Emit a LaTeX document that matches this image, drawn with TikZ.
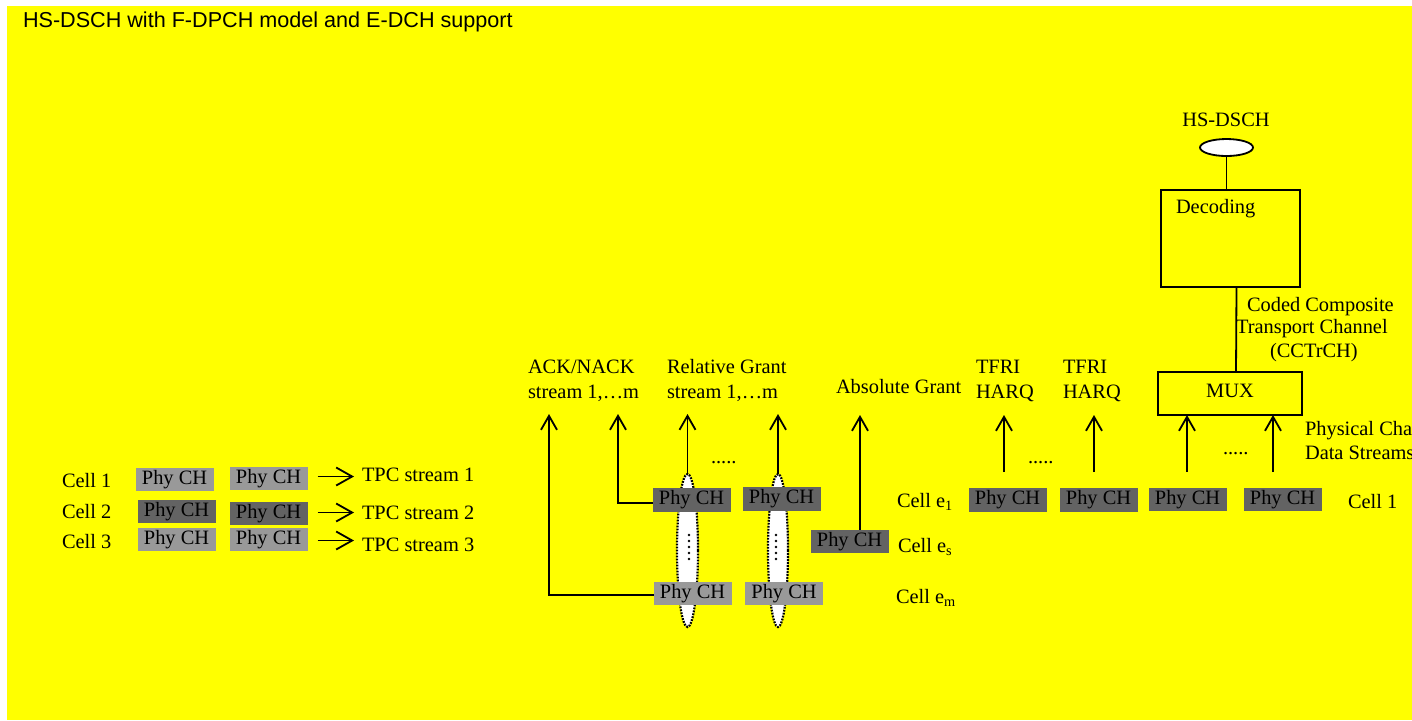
\documentclass[tikz,border=0pt]{standalone}
\usepackage{fontspec}
\setmainfont{Liberation Serif}
\newfontfamily\titlefont{Liberation Sans}
\usetikzlibrary{arrows.meta,shapes.geometric}
\definecolor{bgyellow}{RGB}{255,255,0}
\definecolor{lightph}{RGB}{153,153,153}
\definecolor{darkph}{RGB}{99,99,99}
\begin{document}
\begin{tikzpicture}[x=0.5pt,y=-0.5pt,
  every node/.style={inner sep=0pt, outer sep=0pt, font=\fontsize{10.2}{12}\selectfont},
  lbl/.style={anchor=base west},
  phbox/.style={minimum width=39pt, minimum height=11.75pt},
  phl/.style={phbox, fill=lightph},
  phd/.style={phbox, fill=darkph},
  conn/.style={line width=0.9pt},
  arr/.style={conn, -{Straight Barb[length=7pt,width=8pt]}},
  tpcarr/.style={conn, -{Straight Barb[length=8pt,width=9pt]}},
  blk/.style={draw, line width=0.9pt},
  ellbox/.style={ellipse, draw, dash pattern=on 0.9pt off 0.6pt, line width=1.1pt, fill=white}]

\useasboundingbox (0,0) rectangle (1412,720);
\clip (0,0) rectangle (1412,720);
\fill[bgyellow] (7,6) rectangle (1412,720);

% title
\node[anchor=base west, font=\titlefont\fontsize{10.8}{13}\selectfont] (title) at (23,27) {HS-DSCH with F-DPCH model and E-DCH support};

% ---------- left group ----------
\node[lbl] (cell1) at (62,487) {Cell 1};
\node[lbl] (cell2) at (62,518) {Cell 2};
\node[lbl] (cell3) at (62,548) {Cell 3};
\node[phl] (c1a) at (174.5,479.5) {Phy CH};
\node[phl] (c1b) at (268.5,478.5) {Phy CH};
\node[phd] (c2a) at (176.5,511.5) {Phy CH};
\node[phd] (c2b) at (268.5,513.5) {Phy CH};
\node[phl] (c3a) at (176.5,539.5) {Phy CH};
\node[phl] (c3b) at (268.5,539.5) {Phy CH};
\node[lbl] (tpc1) at (362,481) {TPC stream 1};
\node[lbl] (tpc2) at (362,519) {TPC stream 2};
\node[lbl] (tpc3) at (362,551) {TPC stream 3};
\draw[tpcarr] ([xshift=5pt,yshift=1pt]c1b.east) -- ([xshift=-4pt,yshift=1pt]c1b.east -| tpc1.west);
\draw[tpcarr] ([xshift=5pt,yshift=0.5pt]c2b.east) -- ([xshift=-4pt,yshift=0.5pt]c2b.east -| tpc2.west);
\draw[tpcarr] ([xshift=5pt,yshift=-0.5pt]c3b.east) -- ([xshift=-4pt,yshift=-0.5pt]c3b.east -| tpc3.west);

% ---------- middle group ----------
\node[lbl] (ack1) at (528,373) {ACK/NACK};
\node[lbl] (ack2) at (528,398) {stream 1,\ldots m};
\node[lbl] (rg1) at (667,373) {Relative Grant};
\node[lbl] (rg2) at (667,398) {stream 1,\ldots m};
\node[lbl] (ag) at (836,393) {Absolute Grant};

\node[ellbox, minimum width=10.5pt, minimum height=76.5pt] (ell1) at (687.5,550.5) {};
\node[ellbox, minimum width=10pt, minimum height=76.5pt] (ell2) at (778,550.5) {};
\foreach \yy in {535,541,547,553,559} {
  \fill (689,\yy) circle (0.7pt);
  \fill (776,\yy) circle (0.7pt);
}

\node[phd] (m1) at (691.5,500) {Phy CH};
\node[phd] (m2) at (781.5,499) {Phy CH};
\node[phl] (m3) at (692.5,593.5) {Phy CH};
\node[phl] (m4) at (784,593.5) {Phy CH};
\node[phd] (es) at (849.5,541.5) {Phy CH};

\node[lbl] (dotsA) at (711,463) {.....};
\node[lbl] (celle1) at (897,507) {Cell e\textsubscript{1}};
\node[lbl] (celles) at (898,552) {Cell e\textsubscript{s}};
\node[lbl] (cellem) at (896,603) {Cell e\textsubscript{m}};

\coordinate (ackT1) at (549,414);
\coordinate (ackT2) at (618,414);
\coordinate (rgT1) at (687.5,414);
\coordinate (rgT2) at (778,414);
\coordinate (agT) at (860,415);
\draw[arr] ([yshift=-0.75pt]m3.west) -| (ackT1);
\draw[arr] ([yshift=-1.5pt]m1.west) -| (ackT2);
\draw[arr] (ell1.north) -- (rgT1);
\draw[arr] (ell2.north) -- (rgT2);
\draw[arr] (es.north -| agT) -- (agT);

% ---------- right group ----------
\node[lbl] (tf1a) at (976,373) {TFRI};
\node[lbl] (tf1b) at (976,398) {HARQ};
\node[lbl] (tf2a) at (1063,373) {TFRI};
\node[lbl] (tf2b) at (1063,398) {HARQ};

\node[phd] (r1) at (1007.5,500) {Phy CH};
\node[phd] (r2) at (1098.5,500) {Phy CH};
\node[phd] (r3) at (1187.5,499.5) {Phy CH};
\node[phd] (r4) at (1282.5,499.5) {Phy CH};
\node[lbl] (cellR) at (1348,508) {Cell 1};

\node[lbl] (dotsB) at (1028,463) {.....};
\node[lbl] (dotsC) at (1223,454) {.....};

\coordinate (tfS1) at (1004,472);
\coordinate (tfT1) at (1004,415);
\coordinate (tfS2) at (1094,472);
\coordinate (tfT2) at (1094,415);
\draw[arr] (tfS1) -- (tfT1);
\draw[arr] (tfS2) -- (tfT2);

\node[blk, minimum width=72pt, minimum height=21.5pt] (mux) at (1230,393.5) {};
\node[anchor=base] (muxlbl) at (1230,397) {MUX};
\node[blk, minimum width=69.5pt, minimum height=48.5pt] (dec) at (1230.5,238.5) {};
\node[lbl] (declbl) at (1176,213) {Decoding};
\node[ellipse, draw, fill=white, line width=0.9pt, minimum width=26.5pt, minimum height=8.5pt] (hsell) at (1226.5,147.5) {};
\node[anchor=base] (hslbl) at (1226,126) {HS-DSCH};

\coordinate (muS1) at (1187,472);
\coordinate (muS2) at (1273,472);
\draw[arr] (muS1) -- (muS1 |- mux.south);
\draw[arr] (muS2) -- (muS2 |- mux.south);
\draw[conn] ([xshift=3pt]mux.north) -- ([xshift=3pt]dec.south);
\draw[conn] (hsell.south) -- (hsell.south |- dec.north);

\node[lbl] (cc1) at (1247,311) {Coded Composite};
\node[lbl] (cc2) at (1236,333) {Transport Channel};
\node[lbl] (cc3) at (1270,357) {(CCTrCH)};
\node[lbl] (pc1) at (1305,435) {Physical Channel};
\node[lbl] (pc2) at (1305,459) {Data Streams};
\end{tikzpicture}
\end{document}
